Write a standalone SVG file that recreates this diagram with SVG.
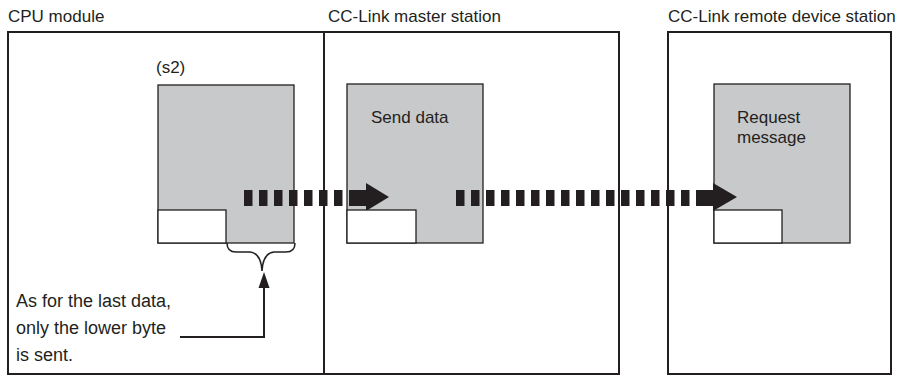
<svg xmlns="http://www.w3.org/2000/svg" width="920" height="376" viewBox="0 0 920 376">
<style>
text{font-family:"Liberation Sans",Arial,sans-serif;fill:#231f20}
.hdr{font-size:17px}
.lbl{font-size:17px}
.ann{font-size:18px}
.frame{fill:none;stroke:#231f20;stroke-width:2}
.gray{fill:#c8c9cb;stroke:#231f20;stroke-width:1.3}
.white{fill:#fff;stroke:#231f20;stroke-width:1.3}
.dash{stroke:#231f20;stroke-width:16;stroke-dasharray:8.5 6.5;fill:none}
.bar{fill:#231f20}
.lead{fill:none;stroke:#231f20;stroke-width:2}
</style>
<rect width="920" height="376" fill="#fff"/>
<g id="frames">
<rect class="frame" x="8" y="32" width="611" height="342"/>
<line class="frame" x1="324" y1="32" x2="324" y2="374"/>
<rect class="frame" x="668" y="32" width="223" height="342"/>
<text class="hdr" x="8" y="22">CPU module</text>
<text class="hdr" x="328" y="22">CC-Link master station</text>
<text class="hdr" x="668" y="22">CC-Link remote device station</text>
</g>
<g id="cpu">
<text class="lbl" x="156" y="73">(s2)</text>
<rect class="gray" x="158" y="85" width="136" height="158"/>
<rect class="white" x="158" y="210" width="68" height="33"/>
</g>
<g id="master">
<rect class="gray" x="347" y="84" width="136" height="159"/>
<text class="lbl" x="371" y="123">Send data</text>
</g>
<g id="remote">
<rect class="gray" x="714" y="84" width="136" height="159"/>
<text class="lbl" x="737" y="123">Request</text>
<text class="lbl" x="737" y="143">message</text>
</g>
<g id="connectors">
<line class="dash" x1="244" y1="198" x2="350" y2="198"/>
<rect class="bar" x="350" y="190" width="17" height="16"/>
<polygon class="bar" points="366,183 389,197 366,211"/>
<line class="dash" x1="456" y1="198" x2="696" y2="198"/>
<rect class="bar" x="696" y="190" width="18" height="16"/>
<polygon class="bar" points="713,183 737,197 713,211"/>
<path class="lead" d="M227,243 Q227,252 236,252 L250,252 Q261,253 262,271 Q263,253 274,252 L286,252 Q295,252 295,243" style="stroke-width:1.5"/>
<polyline class="lead" points="180,337 264,337 264,286"/>
<polygon class="bar" points="264,272 258.5,288 269.5,288"/>
</g>
<g id="master-slot"><rect class="white" x="347" y="210" width="69" height="33"/></g>
<g id="remote-slot"><rect class="white" x="714" y="210" width="68" height="33"/></g>
<g id="note">
<text class="ann" x="16" y="307">As for the last data,</text>
<text class="ann" x="16" y="334">only the lower byte</text>
<text class="ann" x="16" y="361">is sent.</text>
</g>
</svg>
